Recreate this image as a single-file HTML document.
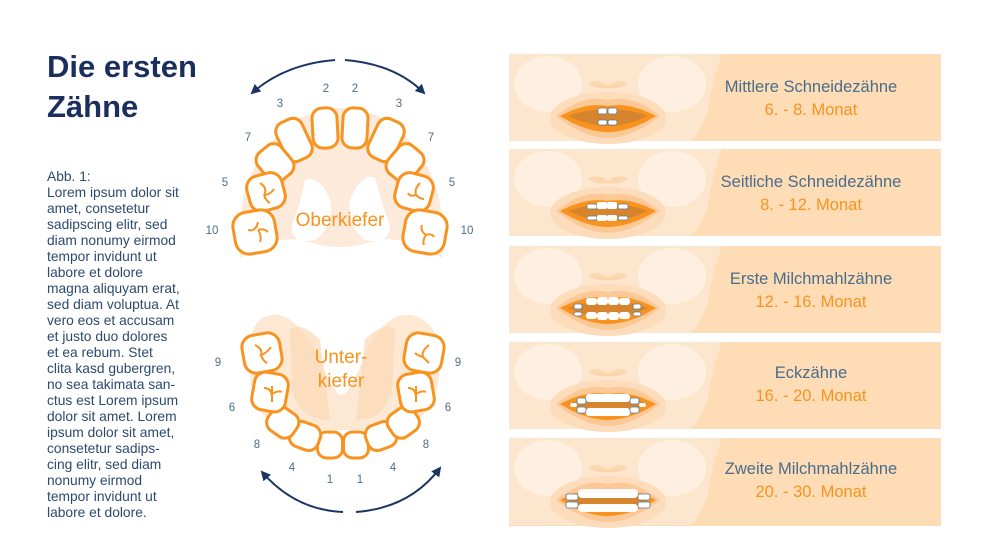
<!DOCTYPE html>
<html><head><meta charset="utf-8"><style>
html,body{margin:0;padding:0;background:#fff;}
svg{display:block;font-family:"Liberation Sans",sans-serif;}
</style></head><body>
<svg width="988" height="560" viewBox="0 0 988 560" xmlns="http://www.w3.org/2000/svg">
<defs>
<marker id="ah" viewBox="0 0 10 10" refX="8" refY="5" markerWidth="5" markerHeight="5" orient="auto"><path d="M0,0 L10,5 L0,10 z" fill="#1b3463"/></marker>
<g id="face" stroke="none">
  <path d="M509,0 L722,0 Q712,26 708,56 Q700,81 690,87 L509,87 z" fill="#fde6ce"/>
  <ellipse cx="548" cy="30" rx="34" ry="28" fill="#feefe0"/>
  <ellipse cx="672" cy="30" rx="34" ry="28" fill="#feefe0"/>
  <path d="M588,30 q10,-6 20,2 q10,-8 20,-2 q-10,6 -20,4 q-10,2 -20,-4 z" fill="#fcd6ae"/>
  <ellipse cx="608" cy="64" rx="58" ry="26" fill="#fcdcbb"/>
  <path d="M556,62 Q583,40 608,46 Q633,40 660,62 Q632,84 608,84 Q584,84 556,62 z" fill="#fcc896"/>
  <path d="M560,62 Q586,48 608,52 Q630,48 656,62 Q630,78 608,78 Q586,78 560,62 z" fill="#f7931e"/>
  <path d="M568,62 Q590,54 608,56 Q626,54 648,62 Q626,72 608,72 Q590,72 568,62 z" fill="#d6852e"/>
</g>
</defs>

<text x="47" y="77" font-size="31" font-weight="bold" fill="#1b2f5e">Die ersten</text>
<text x="47" y="117" font-size="31" font-weight="bold" fill="#1b2f5e">Zähne</text>
<g font-size="13.8" fill="#2c4a6e">
<text x="47" y="181">Abb. 1:</text>
<text x="47" y="197">Lorem ipsum dolor sit</text>
<text x="47" y="213">amet, consetetur</text>
<text x="47" y="229">sadipscing elitr, sed</text>
<text x="47" y="245">diam nonumy eirmod</text>
<text x="47" y="261">tempor invidunt ut</text>
<text x="47" y="277">labore et dolore</text>
<text x="47" y="293">magna aliquyam erat,</text>
<text x="47" y="309">sed diam voluptua. At</text>
<text x="47" y="325">vero eos et accusam</text>
<text x="47" y="341">et justo duo dolores</text>
<text x="47" y="357">et ea rebum. Stet</text>
<text x="47" y="373">clita kasd gubergren,</text>
<text x="47" y="389">no sea takimata san-</text>
<text x="47" y="405">ctus est Lorem ipsum</text>
<text x="47" y="421">dolor sit amet. Lorem</text>
<text x="47" y="437">ipsum dolor sit amet,</text>
<text x="47" y="453">consetetur sadips-</text>
<text x="47" y="469">cing elitr, sed diam</text>
<text x="47" y="485">nonumy eirmod</text>
<text x="47" y="501">tempor invidunt ut</text>
<text x="47" y="517">labore et dolore.</text>
</g>

<!-- Upper jaw -->
<path d="M335,60 Q285,64 252,93" fill="none" stroke="#1b3463" stroke-width="2" marker-end="url(#ah)"/>
<path d="M345,60 Q395,64 424,93" fill="none" stroke="#1b3463" stroke-width="2" marker-end="url(#ah)"/>
<path d="M240,258 Q232,160 300,118 Q341,98 382,118 Q450,160 442,258 Q400,232 372,242 Q340,252 308,242 Q280,232 240,258 z" fill="#fdeadb"/>
<path d="M305,180 Q320,175 330,200 Q335,225 315,240 Q290,245 292,225 Q300,205 305,180 z M375,178 Q362,172 350,200 Q346,225 365,240 Q390,245 390,225 Q382,205 375,178 z" fill="#fff"/>
<g fill="#fff" stroke="#f7931e" stroke-width="3">
<rect x="-12.5" y="-20" width="25" height="40" rx="10" transform="translate(325,128) rotate(-3)"/>
<rect x="-12.5" y="-20" width="25" height="40" rx="10" transform="translate(355,128) rotate(3)"/>
<rect x="-14" y="-21" width="28" height="42" rx="10" transform="translate(294,140) rotate(-25)"/>
<rect x="-14" y="-21" width="28" height="42" rx="10" transform="translate(386,140) rotate(25)"/>
<rect x="-15" y="-18" width="30" height="36" rx="10" transform="translate(275,163) rotate(-40)"/>
<rect x="-15" y="-18" width="30" height="36" rx="10" transform="translate(405,163) rotate(40)"/>
<rect x="-18" y="-18" width="36" height="36" rx="12" transform="translate(266,192) rotate(-15)"/>
<rect x="-18" y="-18" width="36" height="36" rx="12" transform="translate(414,192) rotate(15)"/>
<rect x="-21" y="-21" width="42" height="42" rx="14" transform="translate(255,232) rotate(-10)"/>
<rect x="-21" y="-21" width="42" height="42" rx="14" transform="translate(425,232) rotate(10)"/>
</g>
<g fill="none" stroke="#f7931e" stroke-width="2">
<path d="M260,183 q8,5 4,12 M264,195 q6,0 10,-6 M264,195 q2,6 6,8"/>
<path d="M420,183 q-6,6 -4,12 M416,195 q-6,2 -8,-2 M416,195 q4,4 8,4"/>
<path d="M248,230 q8,2 10,-8 M258,230 q4,6 2,12 M258,230 q6,-2 10,2"/>
<path d="M422,225 q-2,6 4,10 M426,235 q-4,6 -2,10 M426,235 q6,-2 8,2"/>
</g>
<text x="340" y="226" font-size="19" fill="#f7931e" text-anchor="middle">Oberkiefer</text>

<!-- Lower jaw -->
<path d="M250,350 Q250,312 280,315 Q300,320 320,360 Q335,395 341,395 Q350,395 365,355 Q385,312 410,315 Q440,320 440,360 Q440,430 380,430 L300,430 Q245,430 250,350 z" fill="#fde8d4"/>
<path d="M290,330 Q300,320 320,340 L330,420 Q300,420 292,390 z M395,330 Q385,320 365,340 L356,420 Q385,420 392,390 z" fill="#fbd8b5" opacity="0.7"/>
<g fill="#fff" stroke="#f7931e" stroke-width="3">
<rect x="-12.5" y="-13" width="25" height="26" rx="9" transform="translate(330,445)"/>
<rect x="-12.5" y="-13" width="25" height="26" rx="9" transform="translate(356,445)"/>
<rect x="-15" y="-13" width="30" height="26" rx="10" transform="translate(305,436) rotate(20)"/>
<rect x="-15" y="-13" width="30" height="26" rx="10" transform="translate(381,436) rotate(-20)"/>
<rect x="-15" y="-13" width="30" height="27" rx="10" transform="translate(283,422) rotate(35)"/>
<rect x="-15" y="-13" width="30" height="27" rx="10" transform="translate(403,422) rotate(-35)"/>
<rect x="-17" y="-19" width="34" height="38" rx="11" transform="translate(270,392) rotate(10)"/>
<rect x="-17" y="-19" width="34" height="38" rx="11" transform="translate(416,392) rotate(-10)"/>
<rect x="-19" y="-19" width="38" height="38" rx="12" transform="translate(262,353) rotate(-10)"/>
<rect x="-19" y="-19" width="38" height="38" rx="12" transform="translate(424,353) rotate(10)"/>
</g>
<g fill="none" stroke="#f7931e" stroke-width="2">
<path d="M255,345 q8,4 6,10 q6,-2 10,-8 M261,355 q2,6 6,8"/>
<path d="M429,345 q-8,6 -6,12 q-6,-2 -8,-4 M423,357 q4,4 6,6"/>
<path d="M264,388 q8,0 8,10 M272,386 l0,16 M272,394 q6,-4 10,-2"/>
<path d="M408,388 q8,0 8,10 M416,386 l0,16 M416,394 q6,-4 10,-2"/>
</g>
<text x="341" y="363" font-size="19" fill="#f7931e" text-anchor="middle">Unter-</text>
<text x="341" y="387" font-size="19" fill="#f7931e" text-anchor="middle">kiefer</text>
<path d="M343,512 Q295,510 262,472" fill="none" stroke="#1b3463" stroke-width="2" marker-end="url(#ah)"/>
<path d="M356,512 Q410,508 440,468" fill="none" stroke="#1b3463" stroke-width="2" marker-end="url(#ah)"/>

<g font-size="11.5" fill="#4a6d8c" text-anchor="middle">
<text x="326" y="92">2</text><text x="355" y="92">2</text>
<text x="280" y="107">3</text><text x="399" y="107">3</text>
<text x="248" y="141">7</text><text x="431" y="141">7</text>
<text x="225" y="186">5</text><text x="452" y="186">5</text>
<text x="212" y="234">10</text><text x="467" y="234">10</text>
<text x="218" y="366">9</text><text x="458" y="366">9</text>
<text x="232" y="411">6</text><text x="448" y="411">6</text>
<text x="257" y="448">8</text><text x="426" y="448">8</text>
<text x="292" y="471">4</text><text x="393" y="471">4</text>
<text x="330" y="483">1</text><text x="360" y="483">1</text>
</g>

<!-- Panels -->
<rect x="509" y="54" width="432" height="87" fill="#fddcb6"/>
<rect x="509" y="149" width="432" height="87" fill="#fddcb6"/>
<rect x="509" y="246" width="432" height="87" fill="#fddcb6"/>
<rect x="509" y="342" width="432" height="87" fill="#fddcb6"/>
<rect x="509" y="438" width="432" height="88" fill="#fddcb6"/>

<use href="#face" transform="translate(0,54)"/>
<use href="#face" transform="translate(0,149)"/>
<use href="#face" transform="translate(0,246)"/>
<use href="#face" transform="translate(0,342)"/>
<use href="#face" transform="translate(0,438)"/>

<g fill="#fff" stroke="#5a7a95" stroke-width="0.8">
<g transform="translate(0,54)">
<rect x="598" y="54" width="9" height="6" rx="2"/><rect x="608" y="54" width="9" height="6" rx="2"/>
<rect x="598" y="66" width="9" height="5" rx="2"/><rect x="608" y="66" width="9" height="5" rx="2"/></g>
<g transform="translate(0,149)">
<rect x="587" y="55" width="10" height="5" rx="2"/><rect x="597" y="53" width="10" height="7" rx="2" stroke="none"/><rect x="607" y="53" width="10" height="7" rx="2" stroke="none"/><rect x="618" y="55" width="10" height="5" rx="2"/>
<rect x="587" y="67" width="10" height="4" rx="2"/><rect x="597" y="66" width="10" height="6" rx="2" stroke="none"/><rect x="607" y="66" width="10" height="6" rx="2" stroke="none"/><rect x="618" y="67" width="10" height="4" rx="2"/></g>
<g transform="translate(0,246)">
<rect x="586" y="52" width="11" height="7" rx="3" stroke="none"/><rect x="597" y="51" width="11" height="8" rx="3" stroke="none"/><rect x="608" y="51" width="11" height="8" rx="3" stroke="none"/><rect x="619" y="52" width="11" height="7" rx="3" stroke="none"/>
<rect x="574" y="58" width="8" height="5" rx="2"/><rect x="633" y="58" width="8" height="5" rx="2"/>
<rect x="586" y="66" width="11" height="7" rx="3" stroke="none"/><rect x="597" y="66" width="11" height="8" rx="3" stroke="none"/><rect x="608" y="66" width="11" height="8" rx="3" stroke="none"/><rect x="619" y="66" width="11" height="7" rx="3" stroke="none"/>
<rect x="574" y="66" width="8" height="4" rx="2"/><rect x="633" y="66" width="8" height="4" rx="2"/></g>
<g transform="translate(0,342)">
<rect x="586" y="52" width="44" height="8" rx="3" stroke="none"/><rect x="577" y="56" width="9" height="6" rx="2"/><rect x="630" y="56" width="9" height="6" rx="2"/>
<rect x="570" y="61" width="7" height="4" rx="2" stroke="none"/><rect x="639" y="61" width="7" height="4" rx="2" stroke="none"/>
<rect x="586" y="66" width="44" height="8" rx="3" stroke="none"/><rect x="577" y="65" width="9" height="6" rx="2"/><rect x="630" y="65" width="9" height="6" rx="2"/></g>
<g transform="translate(0,438)">
<rect x="578" y="51" width="60" height="9" rx="4" stroke="none"/><rect x="566" y="56" width="12" height="6" rx="2"/><rect x="638" y="56" width="12" height="6" rx="2"/>
<rect x="578" y="66" width="60" height="8" rx="4" stroke="none"/><rect x="566" y="64" width="12" height="6" rx="2"/><rect x="638" y="64" width="12" height="6" rx="2"/></g>
</g>

<g font-size="16.5" text-anchor="middle">
<text x="811" y="92" fill="#4a6d8c">Mittlere Schneidezähne</text>
<text x="811" y="115" fill="#f7931e">6. - 8. Monat</text>
<text x="811" y="187" fill="#4a6d8c">Seitliche Schneidezähne</text>
<text x="811" y="210" fill="#f7931e">8. - 12. Monat</text>
<text x="811" y="284" fill="#4a6d8c">Erste Milchmahlzähne</text>
<text x="811" y="307" fill="#f7931e">12. - 16. Monat</text>
<text x="811" y="378" fill="#4a6d8c">Eckzähne</text>
<text x="811" y="401" fill="#f7931e">16. - 20. Monat</text>
<text x="811" y="474" fill="#4a6d8c">Zweite Milchmahlzähne</text>
<text x="811" y="497" fill="#f7931e">20. - 30. Monat</text>
</g>
</svg>
</body></html>
